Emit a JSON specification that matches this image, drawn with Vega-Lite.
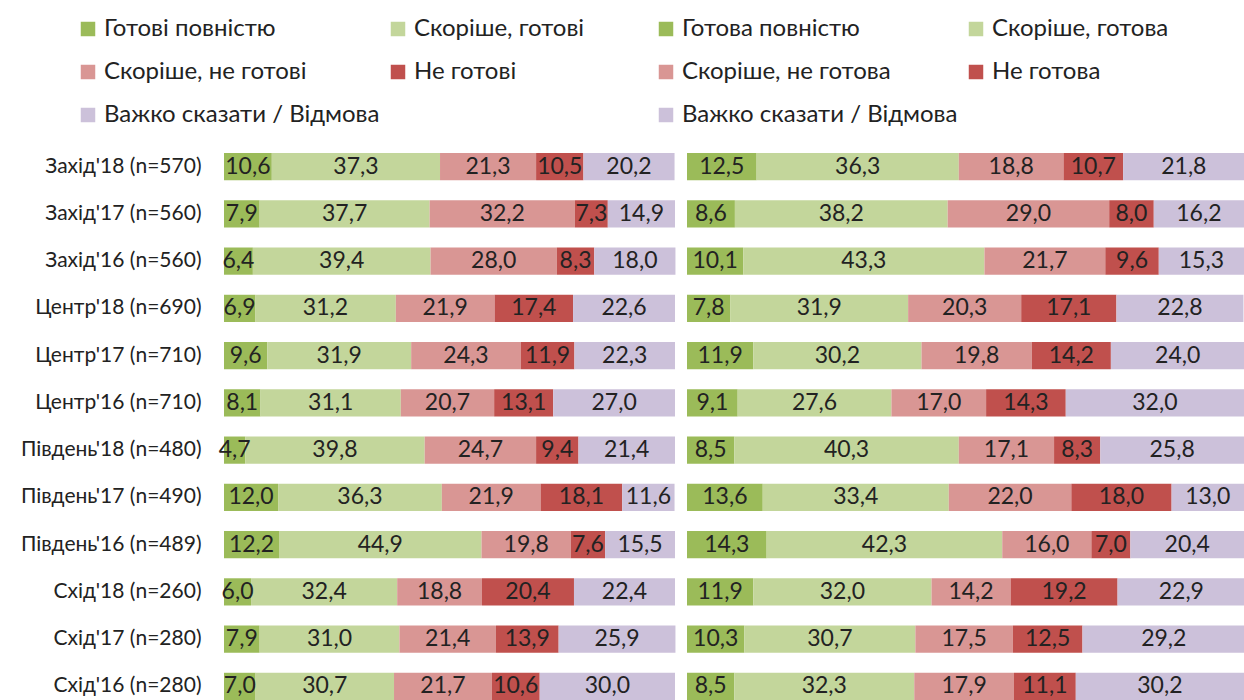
{
  "$schema": "https://vega.github.io/schema/vega-lite/v6.json",
  "padding": {"left": 5, "top": 17, "right": 0, "bottom": 0},
  "autosize": {"type": "pad"},
  "bounds": "flush",
  "spacing": 12,
  "config": {
    "view": {"stroke": null},
    "font": "Lato",
    "locale": {"number": {"decimal": ",", "thousands": " ", "grouping": [3], "currency": ["", " грн"]}}
  },
  "datasets": {
    "L": [
      {"r": "Захід'18 (n=570)", "c": "Готові повністю", "k": 1, "v": 10.6},
      {"r": "Захід'18 (n=570)", "c": "Скоріше, готові", "k": 2, "v": 37.3},
      {"r": "Захід'18 (n=570)", "c": "Скоріше, не готові", "k": 3, "v": 21.3},
      {"r": "Захід'18 (n=570)", "c": "Не готові", "k": 4, "v": 10.5},
      {"r": "Захід'18 (n=570)", "c": "Важко сказати / Відмова", "k": 5, "v": 20.2},
      {"r": "Захід'17 (n=560)", "c": "Готові повністю", "k": 1, "v": 7.9},
      {"r": "Захід'17 (n=560)", "c": "Скоріше, готові", "k": 2, "v": 37.7},
      {"r": "Захід'17 (n=560)", "c": "Скоріше, не готові", "k": 3, "v": 32.2},
      {"r": "Захід'17 (n=560)", "c": "Не готові", "k": 4, "v": 7.3},
      {"r": "Захід'17 (n=560)", "c": "Важко сказати / Відмова", "k": 5, "v": 14.9},
      {"r": "Захід'16 (n=560)", "c": "Готові повністю", "k": 1, "v": 6.4},
      {"r": "Захід'16 (n=560)", "c": "Скоріше, готові", "k": 2, "v": 39.4},
      {"r": "Захід'16 (n=560)", "c": "Скоріше, не готові", "k": 3, "v": 28.0},
      {"r": "Захід'16 (n=560)", "c": "Не готові", "k": 4, "v": 8.3},
      {"r": "Захід'16 (n=560)", "c": "Важко сказати / Відмова", "k": 5, "v": 18.0},
      {"r": "Центр'18 (n=690)", "c": "Готові повністю", "k": 1, "v": 6.9},
      {"r": "Центр'18 (n=690)", "c": "Скоріше, готові", "k": 2, "v": 31.2},
      {"r": "Центр'18 (n=690)", "c": "Скоріше, не готові", "k": 3, "v": 21.9},
      {"r": "Центр'18 (n=690)", "c": "Не готові", "k": 4, "v": 17.4},
      {"r": "Центр'18 (n=690)", "c": "Важко сказати / Відмова", "k": 5, "v": 22.6},
      {"r": "Центр'17 (n=710)", "c": "Готові повністю", "k": 1, "v": 9.6},
      {"r": "Центр'17 (n=710)", "c": "Скоріше, готові", "k": 2, "v": 31.9},
      {"r": "Центр'17 (n=710)", "c": "Скоріше, не готові", "k": 3, "v": 24.3},
      {"r": "Центр'17 (n=710)", "c": "Не готові", "k": 4, "v": 11.9},
      {"r": "Центр'17 (n=710)", "c": "Важко сказати / Відмова", "k": 5, "v": 22.3},
      {"r": "Центр'16 (n=710)", "c": "Готові повністю", "k": 1, "v": 8.1},
      {"r": "Центр'16 (n=710)", "c": "Скоріше, готові", "k": 2, "v": 31.1},
      {"r": "Центр'16 (n=710)", "c": "Скоріше, не готові", "k": 3, "v": 20.7},
      {"r": "Центр'16 (n=710)", "c": "Не готові", "k": 4, "v": 13.1},
      {"r": "Центр'16 (n=710)", "c": "Важко сказати / Відмова", "k": 5, "v": 27.0},
      {"r": "Південь'18 (n=480)", "c": "Готові повністю", "k": 1, "v": 4.7},
      {"r": "Південь'18 (n=480)", "c": "Скоріше, готові", "k": 2, "v": 39.8},
      {"r": "Південь'18 (n=480)", "c": "Скоріше, не готові", "k": 3, "v": 24.7},
      {"r": "Південь'18 (n=480)", "c": "Не готові", "k": 4, "v": 9.4},
      {"r": "Південь'18 (n=480)", "c": "Важко сказати / Відмова", "k": 5, "v": 21.4},
      {"r": "Південь'17 (n=490)", "c": "Готові повністю", "k": 1, "v": 12.0},
      {"r": "Південь'17 (n=490)", "c": "Скоріше, готові", "k": 2, "v": 36.3},
      {"r": "Південь'17 (n=490)", "c": "Скоріше, не готові", "k": 3, "v": 21.9},
      {"r": "Південь'17 (n=490)", "c": "Не готові", "k": 4, "v": 18.1},
      {"r": "Південь'17 (n=490)", "c": "Важко сказати / Відмова", "k": 5, "v": 11.6},
      {"r": "Південь'16 (n=489)", "c": "Готові повністю", "k": 1, "v": 12.2},
      {"r": "Південь'16 (n=489)", "c": "Скоріше, готові", "k": 2, "v": 44.9},
      {"r": "Південь'16 (n=489)", "c": "Скоріше, не готові", "k": 3, "v": 19.8},
      {"r": "Південь'16 (n=489)", "c": "Не готові", "k": 4, "v": 7.6},
      {"r": "Південь'16 (n=489)", "c": "Важко сказати / Відмова", "k": 5, "v": 15.5},
      {"r": "Схід'18 (n=260)", "c": "Готові повністю", "k": 1, "v": 6.0},
      {"r": "Схід'18 (n=260)", "c": "Скоріше, готові", "k": 2, "v": 32.4},
      {"r": "Схід'18 (n=260)", "c": "Скоріше, не готові", "k": 3, "v": 18.8},
      {"r": "Схід'18 (n=260)", "c": "Не готові", "k": 4, "v": 20.4},
      {"r": "Схід'18 (n=260)", "c": "Важко сказати / Відмова", "k": 5, "v": 22.4},
      {"r": "Схід'17 (n=280)", "c": "Готові повністю", "k": 1, "v": 7.9},
      {"r": "Схід'17 (n=280)", "c": "Скоріше, готові", "k": 2, "v": 31.0},
      {"r": "Схід'17 (n=280)", "c": "Скоріше, не готові", "k": 3, "v": 21.4},
      {"r": "Схід'17 (n=280)", "c": "Не готові", "k": 4, "v": 13.9},
      {"r": "Схід'17 (n=280)", "c": "Важко сказати / Відмова", "k": 5, "v": 25.9},
      {"r": "Схід'16 (n=280)", "c": "Готові повністю", "k": 1, "v": 7.0},
      {"r": "Схід'16 (n=280)", "c": "Скоріше, готові", "k": 2, "v": 30.7},
      {"r": "Схід'16 (n=280)", "c": "Скоріше, не готові", "k": 3, "v": 21.7},
      {"r": "Схід'16 (n=280)", "c": "Не готові", "k": 4, "v": 10.6},
      {"r": "Схід'16 (n=280)", "c": "Важко сказати / Відмова", "k": 5, "v": 30.0}
    ],
    "R": [
      {"r": "Захід'18 (n=570)", "c": "Готова повністю", "k": 1, "v": 12.5},
      {"r": "Захід'18 (n=570)", "c": "Скоріше, готова", "k": 2, "v": 36.3},
      {"r": "Захід'18 (n=570)", "c": "Скоріше, не готова", "k": 3, "v": 18.8},
      {"r": "Захід'18 (n=570)", "c": "Не готова", "k": 4, "v": 10.7},
      {"r": "Захід'18 (n=570)", "c": "Важко сказати / Відмова", "k": 5, "v": 21.8},
      {"r": "Захід'17 (n=560)", "c": "Готова повністю", "k": 1, "v": 8.6},
      {"r": "Захід'17 (n=560)", "c": "Скоріше, готова", "k": 2, "v": 38.2},
      {"r": "Захід'17 (n=560)", "c": "Скоріше, не готова", "k": 3, "v": 29.0},
      {"r": "Захід'17 (n=560)", "c": "Не готова", "k": 4, "v": 8.0},
      {"r": "Захід'17 (n=560)", "c": "Важко сказати / Відмова", "k": 5, "v": 16.2},
      {"r": "Захід'16 (n=560)", "c": "Готова повністю", "k": 1, "v": 10.1},
      {"r": "Захід'16 (n=560)", "c": "Скоріше, готова", "k": 2, "v": 43.3},
      {"r": "Захід'16 (n=560)", "c": "Скоріше, не готова", "k": 3, "v": 21.7},
      {"r": "Захід'16 (n=560)", "c": "Не готова", "k": 4, "v": 9.6},
      {"r": "Захід'16 (n=560)", "c": "Важко сказати / Відмова", "k": 5, "v": 15.3},
      {"r": "Центр'18 (n=690)", "c": "Готова повністю", "k": 1, "v": 7.8},
      {"r": "Центр'18 (n=690)", "c": "Скоріше, готова", "k": 2, "v": 31.9},
      {"r": "Центр'18 (n=690)", "c": "Скоріше, не готова", "k": 3, "v": 20.3},
      {"r": "Центр'18 (n=690)", "c": "Не готова", "k": 4, "v": 17.1},
      {"r": "Центр'18 (n=690)", "c": "Важко сказати / Відмова", "k": 5, "v": 22.8},
      {"r": "Центр'17 (n=710)", "c": "Готова повністю", "k": 1, "v": 11.9},
      {"r": "Центр'17 (n=710)", "c": "Скоріше, готова", "k": 2, "v": 30.2},
      {"r": "Центр'17 (n=710)", "c": "Скоріше, не готова", "k": 3, "v": 19.8},
      {"r": "Центр'17 (n=710)", "c": "Не готова", "k": 4, "v": 14.2},
      {"r": "Центр'17 (n=710)", "c": "Важко сказати / Відмова", "k": 5, "v": 24.0},
      {"r": "Центр'16 (n=710)", "c": "Готова повністю", "k": 1, "v": 9.1},
      {"r": "Центр'16 (n=710)", "c": "Скоріше, готова", "k": 2, "v": 27.6},
      {"r": "Центр'16 (n=710)", "c": "Скоріше, не готова", "k": 3, "v": 17.0},
      {"r": "Центр'16 (n=710)", "c": "Не готова", "k": 4, "v": 14.3},
      {"r": "Центр'16 (n=710)", "c": "Важко сказати / Відмова", "k": 5, "v": 32.0},
      {"r": "Південь'18 (n=480)", "c": "Готова повністю", "k": 1, "v": 8.5},
      {"r": "Південь'18 (n=480)", "c": "Скоріше, готова", "k": 2, "v": 40.3},
      {"r": "Південь'18 (n=480)", "c": "Скоріше, не готова", "k": 3, "v": 17.1},
      {"r": "Південь'18 (n=480)", "c": "Не готова", "k": 4, "v": 8.3},
      {"r": "Південь'18 (n=480)", "c": "Важко сказати / Відмова", "k": 5, "v": 25.8},
      {"r": "Південь'17 (n=490)", "c": "Готова повністю", "k": 1, "v": 13.6},
      {"r": "Південь'17 (n=490)", "c": "Скоріше, готова", "k": 2, "v": 33.4},
      {"r": "Південь'17 (n=490)", "c": "Скоріше, не готова", "k": 3, "v": 22.0},
      {"r": "Південь'17 (n=490)", "c": "Не готова", "k": 4, "v": 18.0},
      {"r": "Південь'17 (n=490)", "c": "Важко сказати / Відмова", "k": 5, "v": 13.0},
      {"r": "Південь'16 (n=489)", "c": "Готова повністю", "k": 1, "v": 14.3},
      {"r": "Південь'16 (n=489)", "c": "Скоріше, готова", "k": 2, "v": 42.3},
      {"r": "Південь'16 (n=489)", "c": "Скоріше, не готова", "k": 3, "v": 16.0},
      {"r": "Південь'16 (n=489)", "c": "Не готова", "k": 4, "v": 7.0},
      {"r": "Південь'16 (n=489)", "c": "Важко сказати / Відмова", "k": 5, "v": 20.4},
      {"r": "Схід'18 (n=260)", "c": "Готова повністю", "k": 1, "v": 11.9},
      {"r": "Схід'18 (n=260)", "c": "Скоріше, готова", "k": 2, "v": 32.0},
      {"r": "Схід'18 (n=260)", "c": "Скоріше, не готова", "k": 3, "v": 14.2},
      {"r": "Схід'18 (n=260)", "c": "Не готова", "k": 4, "v": 19.2},
      {"r": "Схід'18 (n=260)", "c": "Важко сказати / Відмова", "k": 5, "v": 22.9},
      {"r": "Схід'17 (n=280)", "c": "Готова повністю", "k": 1, "v": 10.3},
      {"r": "Схід'17 (n=280)", "c": "Скоріше, готова", "k": 2, "v": 30.7},
      {"r": "Схід'17 (n=280)", "c": "Скоріше, не готова", "k": 3, "v": 17.5},
      {"r": "Схід'17 (n=280)", "c": "Не готова", "k": 4, "v": 12.5},
      {"r": "Схід'17 (n=280)", "c": "Важко сказати / Відмова", "k": 5, "v": 29.2},
      {"r": "Схід'16 (n=280)", "c": "Готова повністю", "k": 1, "v": 8.5},
      {"r": "Схід'16 (n=280)", "c": "Скоріше, готова", "k": 2, "v": 32.3},
      {"r": "Схід'16 (n=280)", "c": "Скоріше, не готова", "k": 3, "v": 17.9},
      {"r": "Схід'16 (n=280)", "c": "Не готова", "k": 4, "v": 11.1},
      {"r": "Схід'16 (n=280)", "c": "Важко сказати / Відмова", "k": 5, "v": 30.2}
    ]
  },
  "hconcat": [
    {
      "width": 451,
      "height": 547,
      "data": {"name": "L"},
      "encoding": {
        "y": {
          "field": "r", "type": "nominal", "sort": null,
          "scale": {"paddingInner": 0.424, "paddingOuter": 0},
          "axis": {"title": null, "ticks": false, "domain": false, "labelFontSize": 21, "labelColor": "#222222", "labelPadding": 23, "minExtent": 219, "maxExtent": 219, "labelLimit": 300}
        }
      },
      "layer": [
        {
          "mark": {"type": "bar"},
          "encoding": {
            "x": {"field": "v", "type": "quantitative", "stack": "zero", "scale": {"domain": [0, 100]}, "axis": null},
            "order": {"field": "k", "type": "quantitative"},
            "color": {
              "field": "c", "type": "nominal",
              "scale": {
                "domain": ["Готові повністю", "Скоріше, не готові", "Важко сказати / Відмова", "Скоріше, готові", "Не готові"],
                "range": ["#9BBB59", "#D99694", "#CCC1DA", "#C3D69B", "#C0504D"]
              },
              "legend": {"title": null, "orient": "none", "legendX": -148, "legendY": -136, "columns": 2, "columnPadding": 6, "rowPadding": 19, "padding": 0, "symbolType": "square", "symbolSize": 210, "symbolStrokeWidth": 0, "labelFontSize": 24, "labelColor": "#222222", "labelOffset": 4, "labelLimit": 400}
            }
          }
        },
        {
          "mark": {"type": "text", "fontSize": 23, "color": "#222222"},
          "encoding": {
            "x": {"field": "v", "type": "quantitative", "stack": "zero", "bandPosition": 0.5},
            "order": {"field": "k", "type": "quantitative"},
            "detail": {"field": "c", "type": "nominal"},
            "text": {"field": "v", "type": "quantitative", "format": ".1f"}
          }
        }
      ]
    },
    {
      "width": 557,
      "height": 547,
      "data": {"name": "R"},
      "encoding": {
        "y": {
          "field": "r", "type": "nominal", "sort": null,
          "scale": {"paddingInner": 0.424, "paddingOuter": 0},
          "axis": null
        }
      },
      "layer": [
        {
          "mark": {"type": "bar", "clip": true},
          "encoding": {
            "x": {"field": "v", "type": "quantitative", "stack": "zero", "scale": {"domain": [0, 99.1]}, "axis": null},
            "order": {"field": "k", "type": "quantitative"},
            "color": {
              "field": "c", "type": "nominal",
              "scale": {
                "domain": ["Готова повністю", "Скоріше, не готова", "Важко сказати / Відмова", "Скоріше, готова", "Не готова"],
                "range": ["#9BBB59", "#D99694", "#CCC1DA", "#C3D69B", "#C0504D"]
              },
              "legend": {"title": null, "orient": "none", "legendX": -33, "legendY": -136, "columns": 2, "columnPadding": 6, "rowPadding": 19, "padding": 0, "symbolType": "square", "symbolSize": 210, "symbolStrokeWidth": 0, "labelFontSize": 24, "labelColor": "#222222", "labelOffset": 4, "labelLimit": 400}
            }
          }
        },
        {
          "mark": {"type": "text", "fontSize": 23, "color": "#222222"},
          "encoding": {
            "x": {"field": "v", "type": "quantitative", "stack": "zero", "bandPosition": 0.5},
            "order": {"field": "k", "type": "quantitative"},
            "detail": {"field": "c", "type": "nominal"},
            "text": {"field": "v", "type": "quantitative", "format": ".1f"}
          }
        }
      ]
    }
  ],
  "resolve": {"scale": {"color": "independent"}}
}
